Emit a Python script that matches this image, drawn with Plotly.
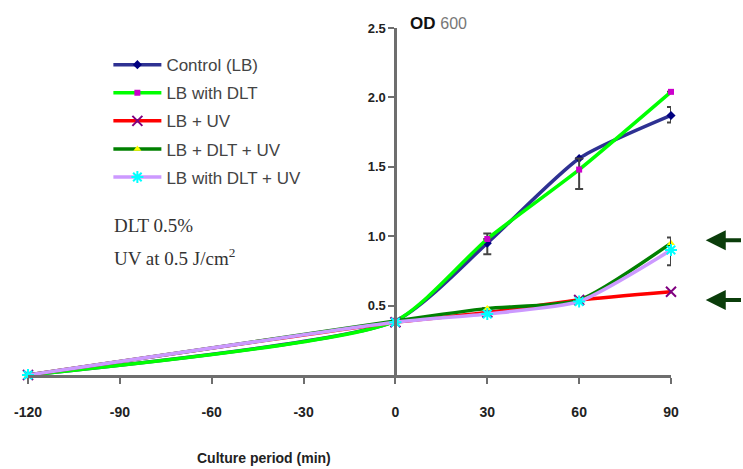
import plotly.graph_objects as go

# ---- data ----
time_min = [-120, 0, 30, 60, 90]
series_names = ["Control (LB)", "LB with DLT", "LB + UV", "LB + DLT + UV", "LB with DLT + UV"]
control_lb = [0.0, 0.39, 0.95, 1.56, 1.87]
lb_dlt = [0.0, 0.39, 0.98, 1.48, 2.04]
lb_uv = [0.0, 0.38, 0.45, 0.54, 0.60]
lb_dlt_uv = [0.0, 0.39, 0.48, 0.54, 0.95]
lb_with_dlt_uv = [0.0, 0.38, 0.44, 0.53, 0.90]

control_err_plus = [None, None, 0.07, None, 0.06]
control_err_minus = [None, None, 0.08, None, 0.05]
dlt_err_plus = [None, None, None, 0.08, None]
dlt_err_minus = [None, None, None, 0.14, None]
dltuv_err_plus = [None, None, None, None, 0.09]
dltuv_err_minus = [None, None, None, None, 0.11]

x_ticks = [-120, -90, -60, -30, 0, 30, 60, 90]
y_ticks = [0.5, 1.0, 1.5, 2.0, 2.5]
y_tick_labels = ["0.5", "1.0", "1.5", "2.0", "2.5"]
arrow_levels = [0.97, 0.54]

# ---- styles ----
styles = [
    dict(color="#2E3192", symbol="diamond", mcolor="#000080", mline=None, size=7),
    dict(color="#00FF00", symbol="square", mcolor="#CC00CC", mline=None, size=6),
    dict(color="#FF0000", symbol="x-thin-open", mcolor="#800080", mline="#800080", size=10),
    dict(color="#008000", symbol="triangle-up", mcolor="#FFFF00", mline=None, size=7),
    dict(color="#CC99FF", symbol="asterisk-open", mcolor="#00FFFF", mline="#00FFFF", size=10),
]
values = [control_lb, lb_dlt, lb_uv, lb_dlt_uv, lb_with_dlt_uv]
errs = [(control_err_plus, control_err_minus), (dlt_err_plus, dlt_err_minus), None, None,
        (dltuv_err_plus, dltuv_err_minus)]

fig = go.Figure()
for name, vals, st, er in zip(series_names, values, styles, errs):
    marker = dict(symbol=st["symbol"], size=st["size"], color=st["mcolor"])
    if st["mline"]:
        marker["line"] = dict(color=st["mline"], width=2)
    else:
        marker["line"] = dict(width=0)
    tr = go.Scatter(
        x=time_min, y=vals, name=name, mode="lines+markers",
        line=dict(color=st["color"], width=3.5, shape="spline", smoothing=0.6),
        marker=marker, legendgroup=name, cliponaxis=False,
    )
    if er:
        tr.error_y = dict(type="data", symmetric=False, array=er[0], arrayminus=er[1],
                          color="#444444", thickness=2, width=4)
    fig.add_trace(tr)

axis_color = "#6E6E6E"
fig.update_layout(
    width=743, height=469,
    margin=dict(l=28, r=72, t=28, b=94, autoexpand=False),
    paper_bgcolor="white", plot_bgcolor="white",
    font=dict(family="Liberation Sans, Arial, sans-serif", color="#333333"),
    showlegend=True,
    legend=dict(x=0.125, y=0.945, xanchor="left", yanchor="top",
                bgcolor="rgba(0,0,0,0)", font=dict(size=17, color="#444444"),
                tracegroupgap=3, itemwidth=48),
    xaxis=dict(range=[-120, 90], tickvals=x_ticks, ticktext=["<b>%d</b>" % v for v in x_ticks],
               showgrid=False, zeroline=False, showline=True, linecolor=axis_color, linewidth=3,
               ticks="outside", ticklen=6, tickwidth=2, tickcolor=axis_color,
               ticklabelstandoff=16, automargin=False,
               tickfont=dict(size=14, color="#222222", family="Liberation Sans, Arial")),
    yaxis=dict(range=[0, 2.5], tickvals=y_ticks, ticktext=["<b>%s</b>" % t for t in y_tick_labels],
               anchor="free", position=120 / 210, showgrid=False, zeroline=False,
               showline=True, linecolor=axis_color, linewidth=3, automargin=False,
               ticks="outside", ticklen=6, tickwidth=2, tickcolor=axis_color,
               tickfont=dict(size=13, color="#222222")),
)

# x axis title (placed left of centre as in the reference)
fig.add_annotation(xref="x", yref="paper", x=-43, y=-0.24, xanchor="center", yanchor="middle",
                   text="<b>Culture period (min)</b>", showarrow=False,
                   font=dict(size=14, color="#222222"))

# OD 600 label
fig.add_annotation(xref="x", yref="paper", x=4, y=1.012, xanchor="left", yanchor="middle",
                   text="<b>OD</b> <span style='color:#777777;font-size:16px'>600</span>",
                   showarrow=False, font=dict(size=17, color="#111111"))

# condition text
fig.add_annotation(xref="paper", yref="paper", x=0.13, y=0.432, xanchor="left", yanchor="middle",
                   text="DLT 0.5%", showarrow=False,
                   font=dict(family="Liberation Serif, Times New Roman, serif", size=19, color="#333333"))
fig.add_annotation(xref="paper", yref="paper", x=0.13, y=0.34, xanchor="left", yanchor="middle",
                   text="UV at 0.5 J/cm<sup>2</sup>", showarrow=False,
                   font=dict(family="Liberation Serif, Times New Roman, serif", size=19, color="#333333"))

# arrows on the right
for lvl in arrow_levels:
    fig.add_annotation(xref="paper", yref="y", x=1.054, y=lvl, ax=44, ay=0, text=" ",
                       showarrow=True, arrowhead=2, arrowsize=1.0, arrowwidth=4,
                       arrowcolor="#0B3D0B", font=dict(size=2))

fig.write_html("out.html", config={"displayModeBar": False},
               post_script="document.body.style.margin='0px';")
